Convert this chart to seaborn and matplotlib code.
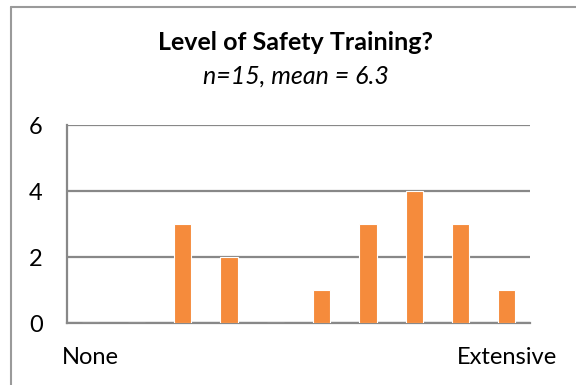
import matplotlib
matplotlib.use("Agg")
import matplotlib.pyplot as plt
from matplotlib.lines import Line2D
import seaborn as sns
import pandas as pd

# rating scale 1..10, number of answers for each level
levels = [1, 2, 3, 4, 5, 6, 7, 8, 9, 10]
counts = [0, 0, 3, 2, 0, 1, 3, 4, 3, 1]
level_labels = ["None", "", "", "", "", "", "", "", "", "Extensive"]
y_ticks = [0, 2, 4, 6]

title = "Level of Safety Training?"
subtitle = "n=15, mean = 6.3"

bar_color = "#F58B3C"
grid_color = "#888888"

sns.set_style("white")
plt.rcParams["font.family"] = ["Lato", "DejaVu Sans"]

df = pd.DataFrame({"level": levels, "count": counts})

W, H = 576, 385
fig = plt.figure(figsize=(W / 100, H / 100), dpi=100)
ax = fig.add_axes([67 / W, 62 / H, (530 - 67) / W, (323 - 125) / H])

sns.barplot(data=df, x="level", y="count", color=bar_color, width=0.37,
            edgecolor="white", linewidth=0.8, saturation=1, ax=ax, zorder=3)

ax.set_xlim(-0.5, len(levels) - 0.5)
ax.set_ylim(0, 6)
ax.set_yticks(y_ticks)
ax.set_yticklabels([str(v) for v in y_ticks], fontsize=17, color="black")
ax.set_xticks(range(len(levels)))
ax.set_xticklabels(level_labels, fontsize=17, color="black")
ax.set_xticks([i - 0.5 for i in range(len(levels) + 1)], minor=True)
ax.tick_params(axis="x", which="major", length=0, pad=17)
ax.tick_params(axis="x", which="minor", length=5, width=1.5, color=grid_color, direction="out")
ax.tick_params(axis="y", length=7.5, width=1.5, color=grid_color, pad=10, direction="out")
ax.set_xlabel("")
ax.set_ylabel("")

ax.yaxis.grid(True, color=grid_color, linewidth=1.6, zorder=0)
ax.set_axisbelow(True)
for side in ["top", "right"]:
    ax.spines[side].set_visible(False)
for side in ["left", "bottom"]:
    ax.spines[side].set_color(grid_color)
    ax.spines[side].set_linewidth(1.6)

fig.text(296 / W, 1 - 43 / H, title, ha="center", va="center",
         fontsize=18, fontweight="bold", color="black")
fig.text(296 / W, 1 - 76 / H, subtitle, ha="center", va="center",
         fontsize=18, fontstyle="italic", color="black")

# chart frame (only top and left edges are inside the image)
fig.add_artist(Line2D([11 / W, 11 / W], [0, 1 - 7 / H], color="#9A9A9A", linewidth=1.5))
fig.add_artist(Line2D([11 / W, 1], [1 - 7 / H, 1 - 7 / H], color="#9A9A9A", linewidth=1.5))

fig.savefig("out.png", dpi=100)
